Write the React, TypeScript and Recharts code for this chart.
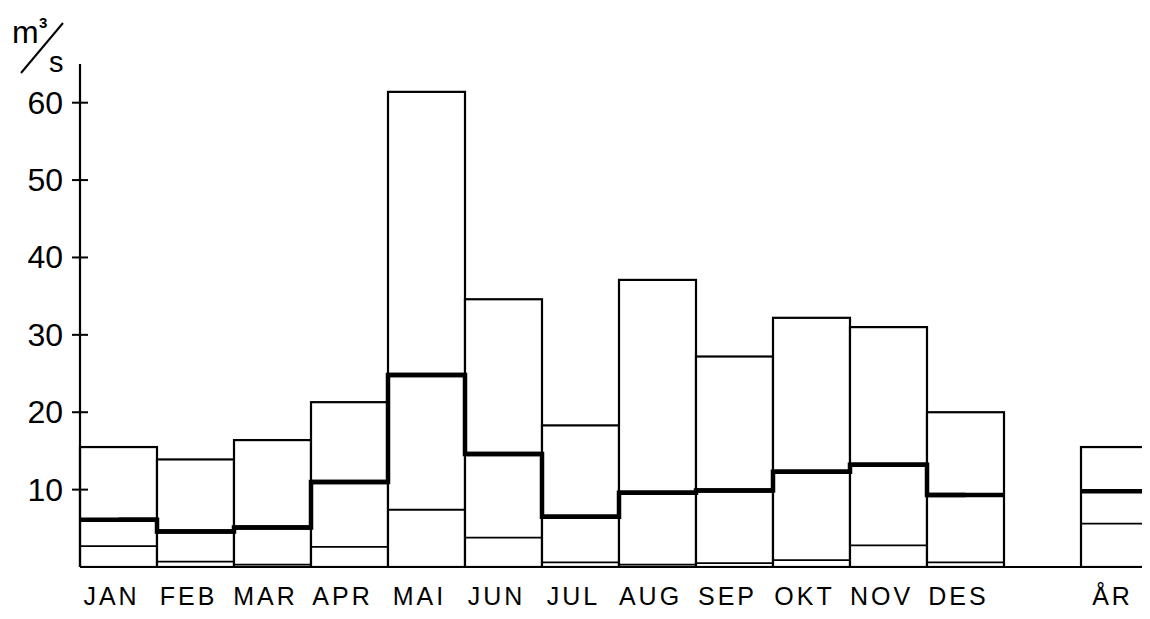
import React from "react";
import { ComposedChart, Bar, Line, XAxis, YAxis } from "recharts";

const months = ["JAN", "FEB", "MAR", "APR", "MAI", "JUN", "JUL", "AUG", "SEP", "OKT", "NOV", "DES", "", "ÅR"];
const maxVals = [15.5, 13.9, 16.4, 21.3, 61.4, 34.6, 18.3, 37.1, 27.2, 32.2, 31.0, 20.0, null, 15.5];
const meanVals = [6.1, 4.6, 5.1, 11.0, 24.8, 14.6, 6.5, 9.6, 9.9, 12.3, 13.2, 9.3, null, 9.8];
const minVals = [2.7, 0.7, 0.3, 2.6, 7.4, 3.8, 0.6, 0.3, 0.5, 0.9, 2.8, 0.6, null, 5.6];
const yTicks = [10, 20, 30, 40, 50, 60];

const data = months.map((m, i) => ({ m, max: maxVals[i], mean: meanVals[i], min: minVals[i] }));

const FONT = "'Liberation Sans', Arial, Helvetica, sans-serif";

const hLine = (w: number) => (p: any) => {
  if (p == null || p.value == null || p.y == null || isNaN(p.y)) return <g />;
  const v = Array.isArray(p.value) ? p.value[1] : p.value;
  if (v == null) return <g />;
  return <line x1={p.x} x2={p.x + p.width} y1={p.y} y2={p.y} stroke="#000" strokeWidth={w} />;
};

const boxShape = (p: any) => {
  if (p == null || p.y == null || isNaN(p.y) || !p.height) return <g />;
  return (
    <rect x={p.x} y={p.y} width={p.width} height={p.height} fill="#fff" stroke="#000" strokeWidth={2.2} />
  );
};

const YTick = (p: any) => {
  const { x, y, payload } = p;
  return (
    <g>
      <line x1={x - 8} x2={x + 8} y1={y} y2={y} stroke="#000" strokeWidth={2} />
      <text x={x - 17} y={y + 11} textAnchor="end" fontFamily={FONT} fontSize={32} fill="#000">
        {payload.value}
      </text>
    </g>
  );
};

const XTick = (p: any) => {
  const { x, y, payload } = p;
  return (
    <text x={x - 7} y={y + 38} textAnchor="middle" fontFamily={FONT} fontSize={25} letterSpacing={3} fill="#000">
      {payload.value}
    </text>
  );
};

export default function App() {
  return (
    <div style={{ position: "relative", width: 1142, height: 608, overflow: "hidden", background: "#fff" }}>
      <ComposedChart
        width={1150}
        height={608}
        data={data}
        margin={{ top: 56, right: 0, bottom: 0, left: 0 }}
        barCategoryGap={0}
        barGap="-100%"
      >
        <XAxis
          dataKey="m"
          interval={0}
          tickLine={false}
          tickSize={0}
          tickMargin={0}
          height={49}
          axisLine={{ stroke: "#000", strokeWidth: 2.2 }}
          tick={<XTick />}
        />
        <YAxis
          domain={[0, 65]}
          ticks={yTicks}
          width={72}
          tickLine={false}
          tickSize={0}
          tickMargin={0}
          axisLine={{ stroke: "#000", strokeWidth: 2.2 }}
          tick={<YTick />}
          allowDataOverflow
        />
        <Bar dataKey="max" isAnimationActive={false} shape={boxShape} />
        <Bar dataKey="min" isAnimationActive={false} shape={hLine(1.8)} />
        <Bar dataKey="mean" isAnimationActive={false} shape={hLine(4.5)} />
        <Line
          dataKey="mean"
          type="step"
          stroke="#000"
          strokeWidth={4.5}
          dot={false}
          activeDot={false}
          connectNulls={false}
          isAnimationActive={false}
        />
      </ComposedChart>
      <svg width={80} height={80} style={{ position: "absolute", left: 0, top: 0 }}>
        <text x={4} y={35} fontFamily={FONT} fontSize={32} fill="#000">m</text>
        <text x={31} y={20} fontFamily={FONT} fontSize={15} fontWeight="bold" fill="#000">3</text>
        <line x1={13} y1={65} x2={55} y2={15} stroke="#000" strokeWidth={2} />
        <text x={41} y={64} fontFamily={FONT} fontSize={29} fill="#000">s</text>
      </svg>
    </div>
  );
}
